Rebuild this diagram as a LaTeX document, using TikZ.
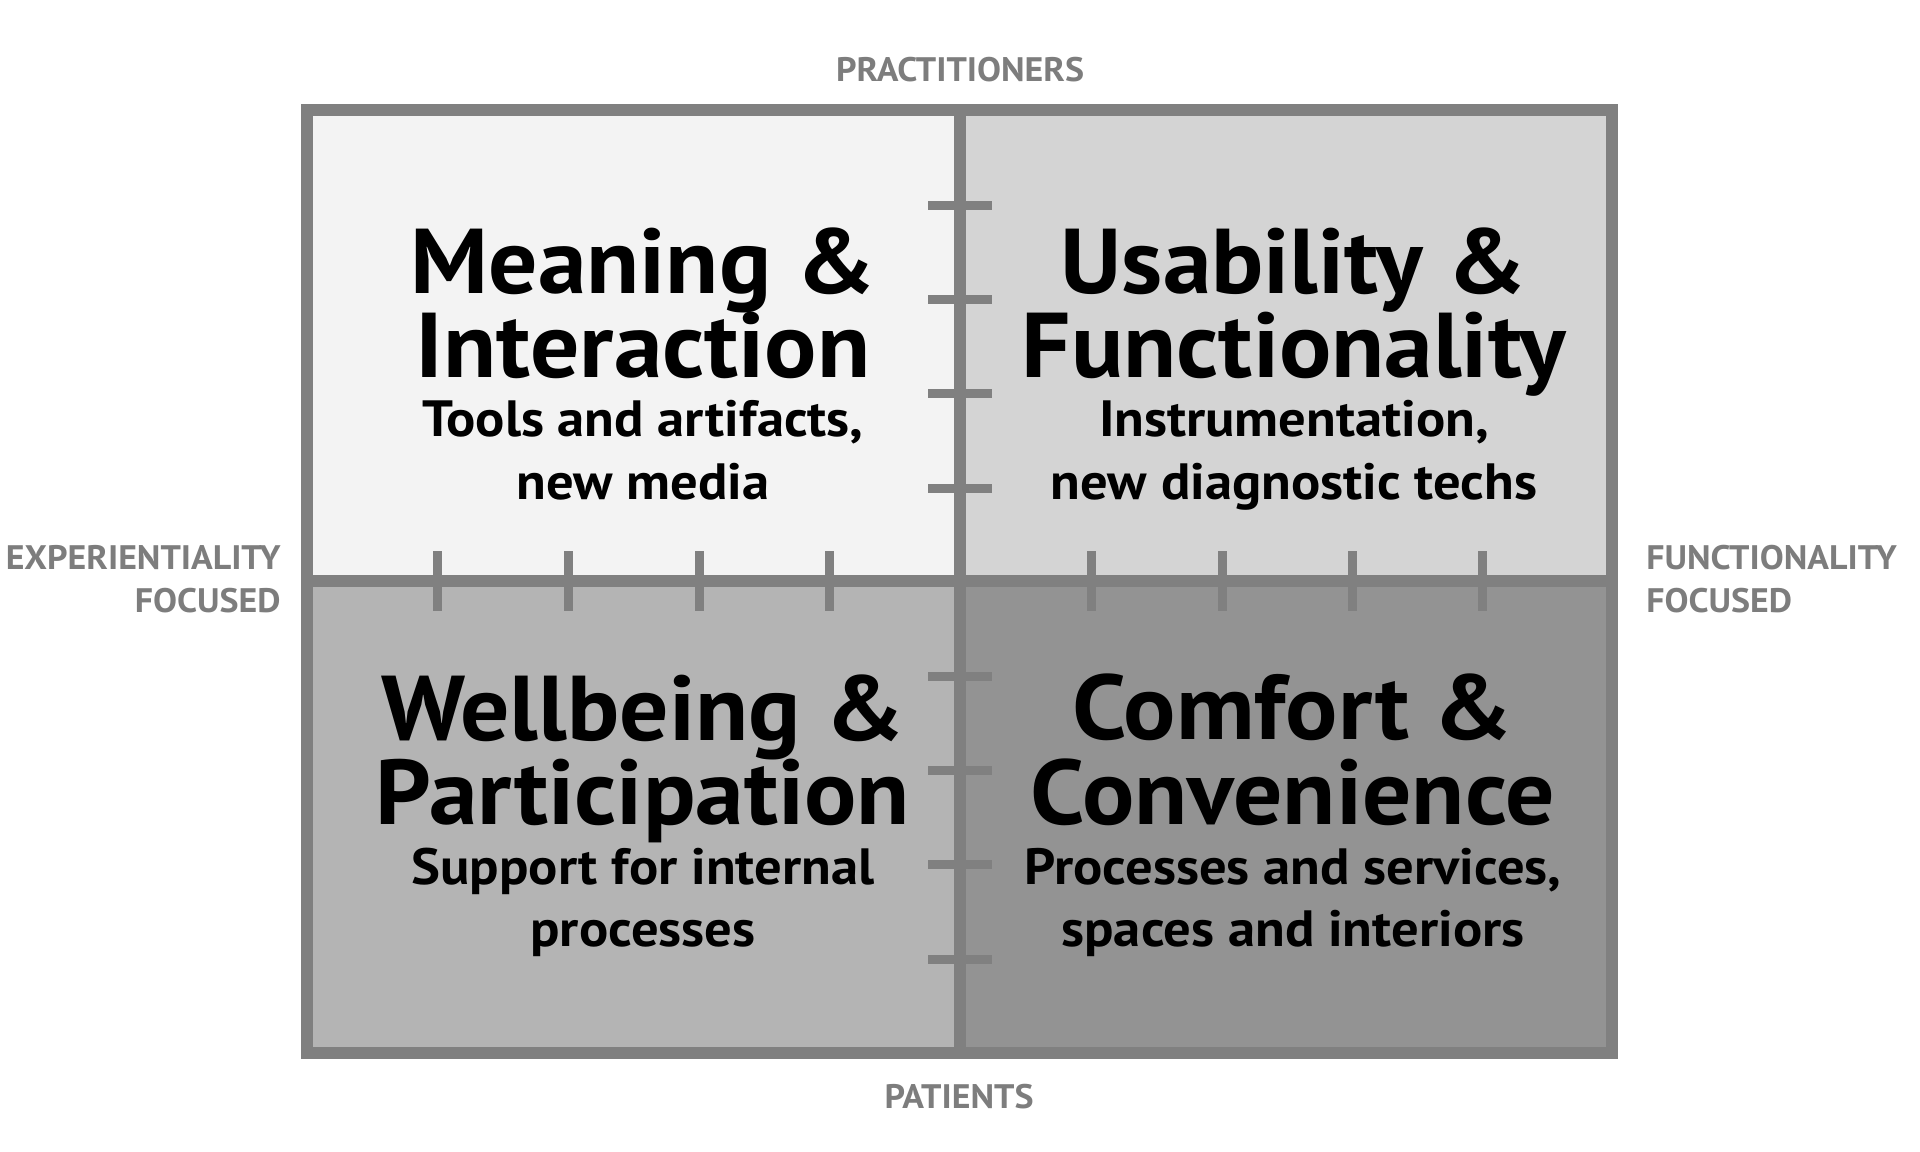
\documentclass[tikz,border=0pt]{standalone}
\usepackage{fontspec}
\setmainfont{PT Sans}
\newfontfamily\titlefont[FakeStretch=1.06]{PT Sans}
\newfontfamily\subfont[FakeStretch=1.07]{PT Sans}
\newfontfamily\labfont[FakeStretch=1.055]{PT Sans}
\definecolor{qa}{HTML}{F3F3F3}
\definecolor{qb}{HTML}{D4D4D4}
\definecolor{qc}{HTML}{B4B4B4}
\definecolor{qd}{HTML}{939393}
\definecolor{gridc}{HTML}{808080}
\definecolor{labc}{HTML}{7D7D7D}
\tikzset{
  gridline/.style={draw=gridc, line width=6pt},
  tickline/.style={draw=gridc, line width=4.5pt},
  titletext/.style={anchor=base, inner sep=0pt, font=\titlefont\fontsize{46pt}{46pt}\selectfont\bfseries, text=black},
  subtext/.style={anchor=base, inner sep=0pt, font=\subfont\fontsize{25.5pt}{25.5pt}\selectfont\bfseries, text=black},
  axislabel/.style={inner sep=0pt, font=\labfont\fontsize{17pt}{17pt}\selectfont\bfseries, text=labc}
}
\begin{document}
\begin{tikzpicture}[x=0.5pt,y=-0.5pt]
\useasboundingbox[fill=white] (0,0) rectangle (1920,1151);
% quadrants
\fill[qa] (307,110) rectangle (960,581);
\fill[qb] (960,110) rectangle (1612,581);
\fill[qc] (307,581) rectangle (960,1053);
\fill[qd] (960,581) rectangle (1612,1053);
% ticks on vertical axis
\foreach \yy in {205,299,393,488,676,770,864,959}
  \draw[tickline] (928,\yy) -- (992,\yy);
% ticks on horizontal axis
\foreach \xx in {437,568,699,829,1091,1222,1352,1482}
  \draw[tickline] (\xx,551) -- (\xx,611);
% grid
\draw[gridline] (307,110) rectangle (1612,1053);
\draw[gridline] (960,110) -- (960,1053);
\draw[gridline] (307,581) -- (1612,581);
% axis labels
\node[axislabel, anchor=base] (prac) at (960,81) {PRACTITIONERS};
\node[axislabel, anchor=base] (pat) at (959,1108) {PATIENTS};
\node[axislabel, anchor=base east] (exp1) at (281,569) {EXPERIENTIALITY};
\node[axislabel, anchor=base east] (exp2) at (281,612) {FOCUSED};
\node[axislabel, anchor=base west] (fun1) at (1646,569) {FUNCTIONALITY};
\node[axislabel, anchor=base west] (fun2) at (1646,612) {FOCUSED};
% top-left
\node[titletext] (mia) at (643,293) {Meaning \&};
\node[titletext] (mib) at (643,377) {Interaction};
\node[subtext] (mic) at (643,436) {Tools and artifacts,};
\node[subtext] (mid) at (643,499) {new media};
% top-right
\node[titletext] (ufa) at (1294,293) {Usability \&};
\node[titletext] (ufb) at (1294,377) {Functionality};
\node[subtext] (ufc) at (1294,436) {Instrumentation,};
\node[subtext] (ufd) at (1294,499) {new diagnostic techs};
% bottom-left
\node[titletext] (wpa) at (643,740) {Wellbeing \&};
\node[titletext] (wpb) at (643,824) {Participation};
\node[subtext] (wpc) at (643,884) {Support for internal};
\node[subtext] (wpd) at (643,946) {processes};
% bottom-right
\node[titletext] (cca) at (1293,739) {Comfort \&};
\node[titletext] (ccb) at (1293,824) {Convenience};
\node[subtext] (ccc) at (1293,884) {Processes and services,};
\node[subtext] (ccd) at (1293,946) {spaces and interiors};
\end{tikzpicture}
\end{document}
